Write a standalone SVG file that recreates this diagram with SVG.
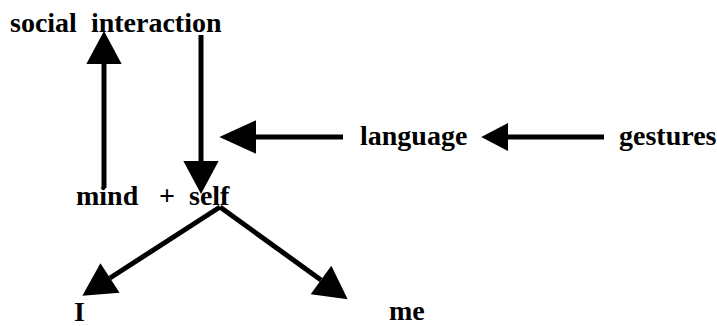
<svg xmlns="http://www.w3.org/2000/svg" width="717" height="326" viewBox="0 0 717 326">
<style>
.t{font-family:"Liberation Serif","Times New Roman",serif;font-weight:bold;font-size:28px;fill:#000}
.c{stroke:#000;stroke-width:5;fill:none}
</style>
<defs>
<marker id="ah" markerUnits="userSpaceOnUse" markerWidth="40" markerHeight="40" viewBox="-1 -16 34 32" refX="0" refY="0" orient="auto" overflow="visible"><path d="M0,-15 L28,0 L0,15 z" fill="#000"/></marker>
<marker id="ahL" markerUnits="userSpaceOnUse" markerWidth="40" markerHeight="40" viewBox="-1 -16 36 32" refX="0" refY="0" orient="auto" overflow="visible"><path d="M0,-15 L33,0 L0,15 z" fill="#000"/></marker>
<marker id="ahS" markerUnits="userSpaceOnUse" markerWidth="30" markerHeight="30" viewBox="-1 -14 28 28" refX="0" refY="0" orient="auto" overflow="visible"><path d="M0,-13 L25,0 L0,13 z" fill="#000"/></marker>
</defs>
<g id="connectors">
<line class="c" x1="104" y1="188" x2="104" y2="64" marker-end="url(#ah)"/>
<line class="c" x1="201" y1="35" x2="201" y2="161" marker-end="url(#ah)"/>
<line class="c" x1="343" y1="137" x2="256" y2="137" marker-end="url(#ahL)"/>
<line class="c" x1="604" y1="137" x2="508" y2="137" marker-end="url(#ahS)"/>
<line class="c" x1="220" y1="207" x2="110" y2="278" marker-end="url(#ah)"/>
<line class="c" x1="220" y1="207" x2="321" y2="280" marker-end="url(#ah)"/>
</g>
<g id="social-interaction"><text class="t" x="10" y="32" xml:space="preserve">social  interaction</text></g>
<g id="language"><text class="t" x="360" y="145">language</text></g>
<g id="gestures"><text class="t" x="619" y="145">gestures</text></g>
<g id="mind-self"><text class="t" x="76" y="205">mind</text><text class="t" x="159" y="205">+</text><text class="t" x="189" y="205">self</text></g>
<g id="I"><text class="t" x="74" y="321">I</text></g>
<g id="me"><text class="t" x="389" y="320">me</text></g>
</svg>
